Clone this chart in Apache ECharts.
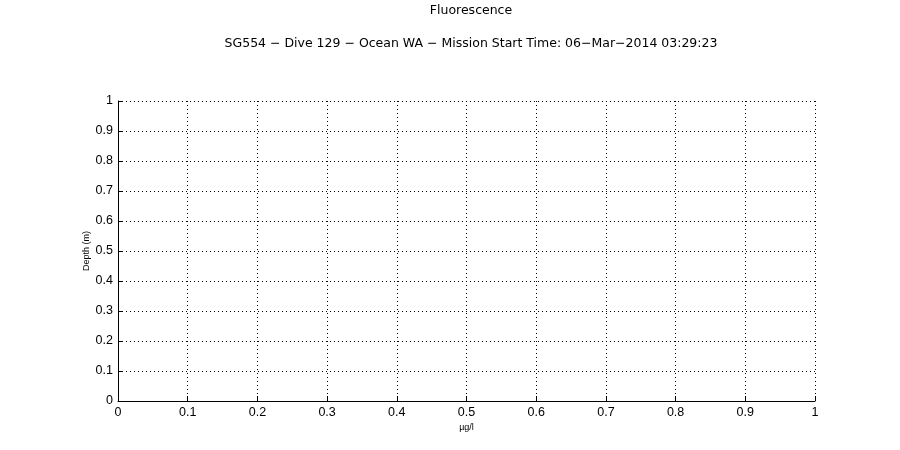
<!DOCTYPE html>
<html>
<head>
<meta charset="utf-8">
<script src="https://cdn.jsdelivr.net/npm/echarts@6/dist/echarts.min.js"></script>
<style>html,body{margin:0;padding:0;background:#fff;}#c{width:900px;height:450px;}</style>
</head>
<body>
<div id="c"></div>
<script>
// Data (the reference plot is empty: no samples were drawn)
var fluorescenceValues = [];
var depthValues = [];
var xTickValues = [0, 0.1, 0.2, 0.3, 0.4, 0.5, 0.6, 0.7, 0.8, 0.9, 1];
var yTickValues = [0, 0.1, 0.2, 0.3, 0.4, 0.5, 0.6, 0.7, 0.8, 0.9, 1];
var titleText = 'Fluorescence';
var subtitleText = 'SG554 \u2212 Dive 129 \u2212 Ocean WA \u2212 Mission Start Time: 06\u2212Mar\u22122014 03:29:23';
var xLabel = '\u00b5g/l';
var yLabel = 'Depth (m)';

var FONT = '"Liberation Sans", Arial, Helvetica, sans-serif';
var TFONT = '"DejaVu Sans", "Liberation Sans", sans-serif';
var chart = echarts.init(document.getElementById('c'), null, {renderer: 'canvas'});
var pts = fluorescenceValues.map(function (v, i) { return [v, depthValues[i]]; });

function fmt(v) { return String(Math.round(v * 10) / 10); }

chart.setOption({
  animation: false,
  backgroundColor: '#ffffff',
  title: [
    {text: titleText, left: 466, top: -1, textAlign: 'center',
     textStyle: {fontFamily: TFONT, fontSize: 12.5, fontWeight: 'normal', color: '#000'}},
    {text: subtitleText, left: 466, top: 32, textAlign: 'center',
     textStyle: {fontFamily: TFONT, fontSize: 12.5, fontWeight: 'normal', color: '#000'}}
  ],
  grid: {left: 118, right: 85, top: 101, bottom: 49, containLabel: false},
  xAxis: {
    type: 'value', min: 0, max: 1, interval: 0.1,
    name: xLabel, nameLocation: 'middle', nameGap: 22, nameMoveOverlap: false,
    nameTextStyle: {fontFamily: FONT, fontSize: 9, color: '#000'},
    axisLine: {show: true, onZero: false, lineStyle: {color: '#000', width: 1}},
    axisTick: {show: true, inside: true, length: 5, lineStyle: {color: '#000'}},
    axisLabel: {fontFamily: FONT, fontSize: 12.5, color: '#000', margin: 5, formatter: fmt,
                showMinLabel: true, showMaxLabel: true},
    splitLine: {show: true, lineStyle: {color: '#000', type: [1, 3], width: 1}}
  },
  yAxis: {
    type: 'value', min: 0, max: 1, interval: 0.1,
    name: yLabel, nameLocation: 'middle', nameGap: 27, nameRotate: 90, nameMoveOverlap: false,
    nameTextStyle: {fontFamily: FONT, fontSize: 9, color: '#000'},
    axisLine: {show: true, onZero: false, lineStyle: {color: '#000', width: 1}},
    axisTick: {show: true, inside: true, length: 5, lineStyle: {color: '#000'}},
    axisLabel: {fontFamily: FONT, fontSize: 12.5, color: '#000', margin: 5, formatter: fmt,
                showMinLabel: true, showMaxLabel: true},
    splitLine: {show: true, lineStyle: {color: '#000', type: [1, 3], width: 1}}
  },
  series: [{
    type: 'line', data: pts, symbol: 'none',
    lineStyle: {color: '#0000ff', width: 1}
  }]
});
</script>
</body>
</html>
